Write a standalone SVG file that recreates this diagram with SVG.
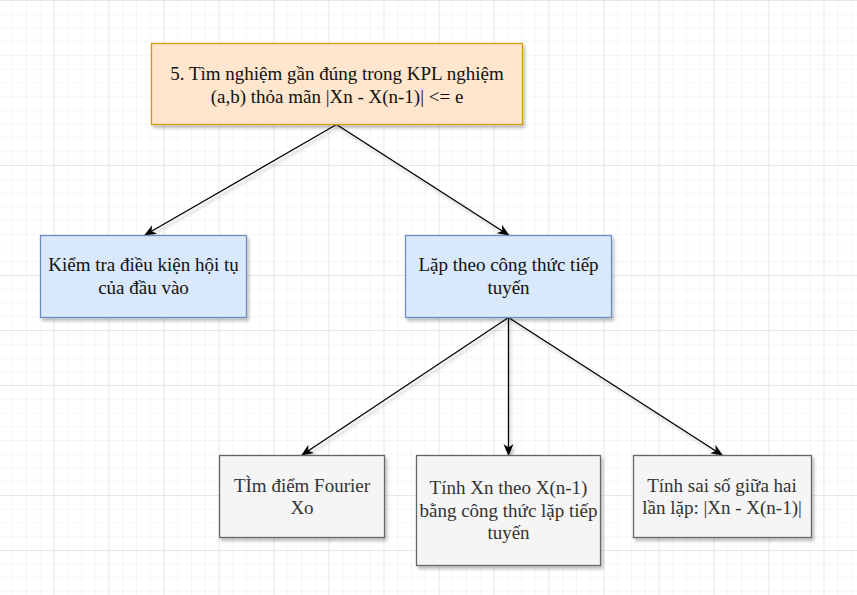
<svg xmlns="http://www.w3.org/2000/svg" width="857" height="595" viewBox="0 0 857 595">
<defs>
  <pattern id="minor" x="-1.5" y="0" width="13.75" height="13.75" patternUnits="userSpaceOnUse">
    <path d="M0 0 H13.75 M0 0 V13.75" fill="none" stroke="#eeeeee" stroke-width="1"/>
  </pattern>
  <pattern id="major" x="-1.5" y="0" width="55" height="55" patternUnits="userSpaceOnUse">
    <path d="M0 0 H55 M0 0 V55" fill="none" stroke="#dadada" stroke-width="1"/>
  </pattern>
  <filter id="sh" x="-10%" y="-10%" width="130%" height="140%">
    <feDropShadow dx="2" dy="3" stdDeviation="1.6" flood-color="#000" flood-opacity="0.25"/>
  </filter>
  <marker id="arr" viewBox="0 0 12 12" refX="11" refY="6" markerWidth="12" markerHeight="12" markerUnits="userSpaceOnUse" orient="auto">
    <path d="M0 1 L12 6 L0 11 L3.5 6 Z" fill="#000"/>
  </marker>
  <style>
    text { font-family: "Liberation Serif", "Times New Roman", serif; font-size: 19px; text-anchor: middle; }
    .orange { fill: #ffe6cc; stroke: #d79b00; stroke-width: 1.3; }
    .blue { fill: #dae8fc; stroke: #6c8ebf; stroke-width: 1.3; }
    .grey { fill: #f5f5f5; stroke: #666666; stroke-width: 1.3; }
    .dark { fill: #111; }
    .greytext { fill: #333333; }
    .edge { fill: none; stroke: #000; stroke-width: 1.3; marker-end: url(#arr); }
  </style>
</defs>
<rect width="857" height="595" fill="#ffffff"/>
<rect width="857" height="595" fill="url(#minor)"/>
<rect width="857" height="595" fill="url(#major)"/>

<g id="connectors" filter="url(#sh)">
  <path class="edge" d="M336.5 124.5 L145 235"/>
  <path class="edge" d="M336.5 124.5 L508.5 235"/>
  <path class="edge" d="M508.5 317.5 L302 455"/>
  <path class="edge" d="M508.5 317.5 L508.5 455"/>
  <path class="edge" d="M508.5 317.5 L722 455"/>
</g>

<g id="n-top">
  <rect class="orange" x="151.5" y="43.5" width="371" height="81" filter="url(#sh)"/>
  <text class="dark" x="337" y="80">5. Tìm nghiệm gần đúng trong KPL nghiệm</text>
  <text class="dark" x="337" y="102.5">(a,b) thỏa mãn |Xn - X(n-1)| &lt;= e</text>
</g>

<g id="n-check">
  <rect class="blue" x="40.5" y="235.5" width="206" height="82" filter="url(#sh)"/>
  <text class="dark" x="143.5" y="271">Kiểm tra điều kiện hội tụ</text>
  <text class="dark" x="143.5" y="293.5">của đầu vào</text>
</g>

<g id="n-iter">
  <rect class="blue" x="405.5" y="235.5" width="206" height="82" filter="url(#sh)"/>
  <text class="dark" x="508.5" y="271">Lặp theo công thức tiếp</text>
  <text class="dark" x="508.5" y="293.5">tuyến</text>
</g>

<g id="n-fourier">
  <rect class="grey" x="219.5" y="455.5" width="165" height="82" filter="url(#sh)"/>
  <text class="greytext" x="302" y="491.5">TÌm điểm Fourier</text>
  <text class="greytext" x="302" y="514">Xo</text>
</g>

<g id="n-xn">
  <rect class="grey" x="416.5" y="455.5" width="184" height="110" filter="url(#sh)"/>
  <text class="greytext" x="508.5" y="494">Tính Xn theo X(n-1)</text>
  <text class="greytext" x="508.5" y="516.5">bằng công thức lặp tiếp</text>
  <text class="greytext" x="508.5" y="539">tuyến</text>
</g>

<g id="n-err">
  <rect class="grey" x="633.5" y="455.5" width="178" height="82" filter="url(#sh)"/>
  <text class="greytext" x="722" y="491.5">Tính sai số giữa hai</text>
  <text class="greytext" x="722" y="514">lần lặp: |Xn - X(n-1)|</text>
</g>
</svg>
